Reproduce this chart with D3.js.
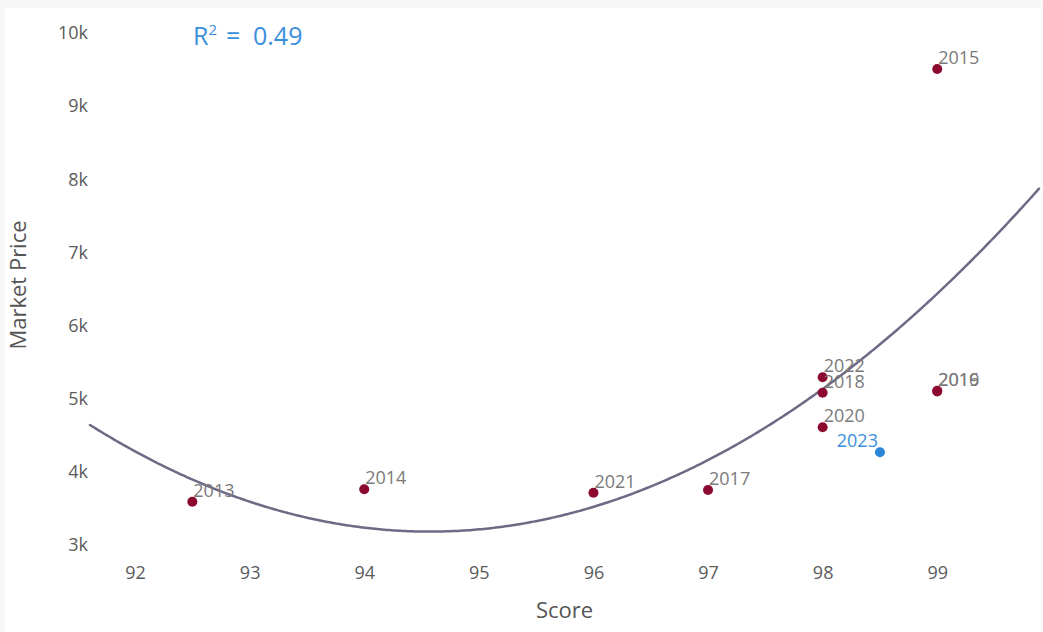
<!DOCTYPE html>
<html>
<head>
<meta charset="utf-8">
<script src="https://cdn.jsdelivr.net/npm/d3@7"></script>
<style>
  html, body { margin: 0; padding: 0; background: #f7f7f7; }
  svg { display: block; font-family: "Open Sans", "Noto Sans", sans-serif; }
</style>
</head>
<body>
<svg id="chart" width="1043" height="632"></svg>
<script>
// Vintage scores and market prices
const vintages = ["2013", "2014", "2021", "2017", "2022", "2018", "2020", "2015", "2016", "2019", "2023"];
const scores   = [92.5, 94, 96, 97, 98, 98, 98, 99, 99, 99, 98.5];
const prices   = [3592, 3762, 3715, 3752, 5293, 5082, 4609, 9508, 5100, 5110, 4267];
// The latest vintage is highlighted and left out of the trend fit
const highlight = ["2023"];

const xTicks = [92, 93, 94, 95, 96, 97, 98, 99];
const yTicks = [3000, 4000, 5000, 6000, 7000, 8000, 9000, 10000];
const rSquaredText = "0.49";

const W = 1043, H = 632;
const plot = { left: 90, right: 1039, top: 8, bottom: 560 };

const svg = d3.select("#chart");

svg.append("rect")
  .attr("x", 5).attr("y", 8)
  .attr("width", W - 5).attr("height", H - 8)
  .attr("fill", "#ffffff");

const x = d3.scaleLinear().domain([91.607, 99.888]).range([plot.left, plot.right]);
const y = d3.scaleLinear().domain([3000, 10000]).range([545, 33]);

const points = vintages.map((v, i) => ({
  year: v, score: scores[i], price: prices[i], hi: highlight.includes(v)
}));

// Least-squares quadratic fit on the non-highlighted vintages
function quadFit(pts) {
  const n = pts.length;
  let s0 = n, s1 = 0, s2 = 0, s3 = 0, s4 = 0, t0 = 0, t1 = 0, t2 = 0;
  const c0 = d3.mean(pts, p => p.score);
  pts.forEach(p => {
    const u = p.score - c0, v = p.price;
    s1 += u; s2 += u * u; s3 += u * u * u; s4 += u * u * u * u;
    t0 += v; t1 += u * v; t2 += u * u * v;
  });
  // Solve the 3x3 normal equations via Cramer's rule
  const M = [[s0, s1, s2], [s1, s2, s3], [s2, s3, s4]];
  const T = [t0, t1, t2];
  const det = m => m[0][0] * (m[1][1] * m[2][2] - m[1][2] * m[2][1])
                 - m[0][1] * (m[1][0] * m[2][2] - m[1][2] * m[2][0])
                 + m[0][2] * (m[1][0] * m[2][1] - m[1][1] * m[2][0]);
  const D = det(M);
  const coef = [0, 1, 2].map(k => {
    const Mk = M.map((row, r) => row.map((val, c) => (c === k ? T[r] : val)));
    return det(Mk) / D;
  });
  return s => { const u = s - c0; return coef[0] + coef[1] * u + coef[2] * u * u; };
}

const fit = quadFit(points.filter(p => !p.hi));

// Clip region for plot content
svg.append("clipPath").attr("id", "plotClip")
  .append("rect")
  .attr("x", plot.left - 10).attr("y", plot.top)
  .attr("width", plot.right - plot.left + 14).attr("height", plot.bottom - plot.top + 40);

// Axes (labels only, no lines)
const yAxis = svg.append("g").attr("transform", `translate(${plot.left - 2},0)`)
  .call(d3.axisLeft(y).tickValues(yTicks).tickSize(0).tickPadding(0)
    .tickFormat(d => d / 1000 + "k"));
yAxis.select(".domain").remove();
yAxis.selectAll("text")
  .attr("fill", "#5b5b5b").attr("font-size", 18)
  .attr("font-family", "Open Sans, sans-serif");

const xAxis = svg.append("g").attr("transform", `translate(0,${575 - 9})`)
  .call(d3.axisBottom(x).tickValues(xTicks).tickSize(0).tickPadding(0)
    .tickFormat(d3.format("d")));
xAxis.select(".domain").remove();
xAxis.selectAll("text")
  .attr("fill", "#5b5b5b").attr("font-size", 18)
  .attr("font-family", "Open Sans, sans-serif");

// Axis titles
svg.append("text")
  .attr("x", (plot.left + plot.right) / 2).attr("y", 618)
  .attr("text-anchor", "middle")
  .attr("font-size", 22).attr("fill", "#555")
  .text("Score");

svg.append("text")
  .attr("transform", `translate(26,285) rotate(-90)`)
  .attr("text-anchor", "middle")
  .attr("font-size", 22).attr("fill", "#555")
  .text("Market Price");

// Trend curve
const xs = d3.range(0, 401).map(i => x.domain()[0] + (x.domain()[1] - x.domain()[0]) * i / 400);
const line = d3.line().x(d => x(d)).y(d => y(fit(d))).curve(d3.curveLinear);
svg.append("path")
  .attr("clip-path", "url(#plotClip)")
  .attr("d", line(xs))
  .attr("fill", "none")
  .attr("stroke", "#6d6a85")
  .attr("stroke-width", 2.5)
  .attr("stroke-linecap", "round");

// Points
svg.append("g").selectAll("circle")
  .data(points)
  .join("circle")
  .attr("cx", d => x(d.score))
  .attr("cy", d => y(d.price))
  .attr("r", 5)
  .attr("fill", d => d.hi ? "#2a86d8" : "#8c0a30");

// Vintage labels
svg.append("g").selectAll("text")
  .data(points)
  .join("text")
  .attr("x", d => d.hi ? x(d.score) - 2 : x(d.score) + 1)
  .attr("y", d => y(d.price) - 5)
  .attr("text-anchor", d => d.hi ? "end" : "start")
  .attr("font-size", 18)
  .attr("fill", d => d.hi ? "#3a8fdc" : "#7a7a7a")
  .text(d => d.year);

// R-squared annotation
const r2 = svg.append("text")
  .attr("y", 45)
  .attr("font-size", 25).attr("fill", "#3a8fdc");
r2.append("tspan").attr("x", 193).text("R");
r2.append("tspan").attr("font-size", 15).attr("dy", -10).text("2");
r2.append("tspan").attr("x", 226).attr("dy", 10).text("=");
r2.append("tspan").attr("x", 253).text(rSquaredText);
</script>
</body>
</html>
